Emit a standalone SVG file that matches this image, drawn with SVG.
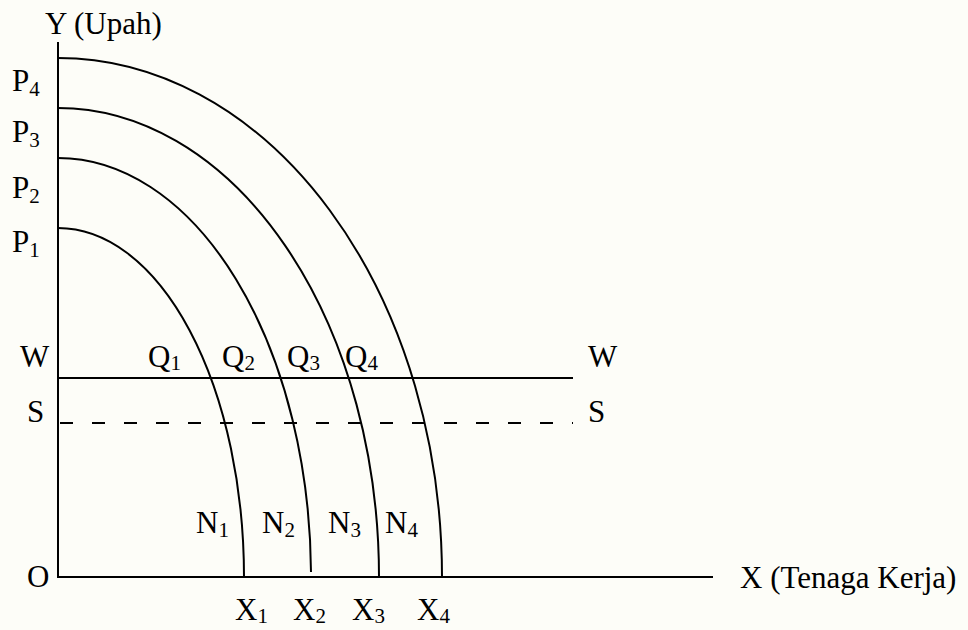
<svg xmlns="http://www.w3.org/2000/svg" width="968" height="630" viewBox="0 0 968 630">
<style>
.t{font-family:"Liberation Serif","Times New Roman",serif;font-size:31px;fill:#000;}
.s{font-size:21px;}
.ln{stroke:#000;stroke-width:2;fill:none;}
.dash{stroke:#000;stroke-width:2;fill:none;stroke-dasharray:13 19;}
</style>
<rect width="968" height="630" fill="#fdfdf8"/>
<g id="axes">
<line class="ln" x1="58" y1="42" x2="58" y2="577"/>
<line class="ln" x1="57" y1="577" x2="713" y2="577"/>
</g>
<g id="connectors">
<path id="curve1" class="ln" d="M58,228 A186,349 0 0 1 244,577"/>
<path id="curve2" class="ln" d="M58,158 A253,419 0 0 1 311,572"/>
<path id="curve3" class="ln" d="M58,108 A321,469 0 0 1 379,577"/>
<path id="curve4" class="ln" d="M58,58 A384,519 0 0 1 442,577"/>
<line id="lineW" class="ln" x1="58" y1="378" x2="573" y2="378"/>
<line id="lineS" class="dash" x1="60" y1="423" x2="573" y2="423"/>
</g>
<g id="labels">
<text class="t" x="45" y="34">Y (Upah)</text>
<text class="t" x="12" y="91">P<tspan class="s" dy="5">4</tspan></text>
<text class="t" x="12" y="142">P<tspan class="s" dy="5">3</tspan></text>
<text class="t" x="12" y="198">P<tspan class="s" dy="5">2</tspan></text>
<text class="t" x="12" y="252">P<tspan class="s" dy="5">1</tspan></text>
<text class="t" x="20" y="367">W</text>
<text class="t" x="27" y="422">S</text>
<text class="t" x="148" y="367">Q<tspan class="s" dy="3">1</tspan></text>
<text class="t" x="222" y="367">Q<tspan class="s" dy="3">2</tspan></text>
<text class="t" x="287" y="367">Q<tspan class="s" dy="3">3</tspan></text>
<text class="t" x="345" y="367">Q<tspan class="s" dy="3">4</tspan></text>
<text class="t" x="588" y="367">W</text>
<text class="t" x="588" y="422">S</text>
<text class="t" x="196" y="533">N<tspan class="s" dy="4">1</tspan></text>
<text class="t" x="262" y="533">N<tspan class="s" dy="4">2</tspan></text>
<text class="t" x="328" y="533">N<tspan class="s" dy="4">3</tspan></text>
<text class="t" x="385" y="533">N<tspan class="s" dy="4">4</tspan></text>
<text class="t" x="27" y="587">O</text>
<text class="t" x="740" y="588">X (Tenaga Kerja)</text>
<text class="t" x="235" y="620">X<tspan class="s" dy="3">1</tspan></text>
<text class="t" x="293" y="620">X<tspan class="s" dy="3">2</tspan></text>
<text class="t" x="352" y="620">X<tspan class="s" dy="3">3</tspan></text>
<text class="t" x="417" y="620">X<tspan class="s" dy="3">4</tspan></text>
</g>
</svg>
